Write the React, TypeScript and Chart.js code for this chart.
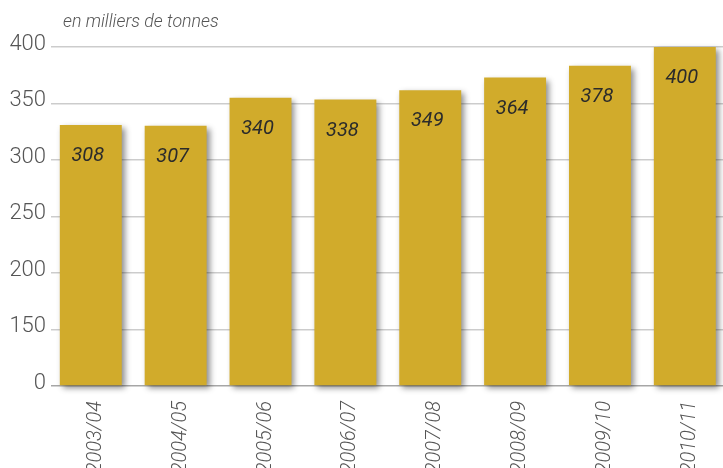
import React, { useEffect, useRef } from 'react';
import { Chart, registerables } from 'chart.js';

Chart.register(...registerables);

const CATEGORIES = ['2003/04', '2004/05', '2005/06', '2006/07', '2007/08', '2008/09', '2009/10', '2010/11'];
const VALUES = [308, 307, 340, 338, 349, 364, 378, 400];
const Y_TICK_LABELS = ['0', '150', '200', '250', '300', '350', '400'];
const Y_MAX = 400;
const UNIT_LABEL = 'en milliers de tonnes';

const FONT = 'Roboto';
const BAR_COLOR = '#D1AB2B';

export default function App() {
  const ref = useRef<HTMLCanvasElement | null>(null);

  useEffect(() => {
    if (!ref.current) return;
    const decor = {
      id: 'decor',
      beforeDatasetsDraw(chart: any) {
        const ctx = chart.ctx;
        ctx.save();
        ctx.shadowColor = 'rgba(0,0,0,0.45)';
        ctx.shadowOffsetX = 3;
        ctx.shadowOffsetY = 3;
        ctx.shadowBlur = 6;
      },
      afterDatasetsDraw(chart: any) {
        const ctx = chart.ctx;
        ctx.restore();
        ctx.save();
        ctx.font = `italic 400 20px ${FONT}`;
        ctx.fillStyle = '#2b2b2b';
        ctx.textAlign = 'center';
        ctx.textBaseline = 'middle';
        const meta = chart.getDatasetMeta(0);
        meta.data.forEach((bar: any, i: number) => {
          ctx.fillText(String(VALUES[i]), bar.x - 3, bar.y + 31);
        });
        ctx.restore();
      },
      afterDraw(chart: any) {
        const ctx = chart.ctx;
        ctx.save();
        ctx.font = `italic 300 17.8px ${FONT}`;
        ctx.fillStyle = '#555';
        ctx.textAlign = 'left';
        ctx.textBaseline = 'alphabetic';
        ctx.fillText(UNIT_LABEL, chart.chartArea.left + 12, 27);
        ctx.restore();
      },
    };

    const chart = new Chart(ref.current, {
      type: 'bar',
      data: {
        datasets: [
          {
            data: VALUES.map((v, i) => ({ x: i, y: v })),
            backgroundColor: BAR_COLOR,
            borderWidth: 0,
            barPercentage: 0.73,
            categoryPercentage: 1,
            clip: false as any,
          },
        ],
      },
      options: {
        animation: false,
        responsive: false,
        devicePixelRatio: 1,
        layout: { padding: { top: 47, right: 0, left: 0, bottom: 0 } },
        plugins: { legend: { display: false }, tooltip: { enabled: false }, title: { display: false } },
        scales: {
          x: {
            type: 'linear',
            min: -0.469,
            max: 7.45,
            offset: false,
            grid: { display: false },
            border: { display: false },
            afterFit: (scale: any) => {
              scale.height = 82;
            },
            ticks: {
              stepSize: 1,
              includeBounds: false,
              autoSkip: false,
              minRotation: 90,
              maxRotation: 90,
              padding: 7,
              labelOffset: 5,
              color: '#555',
              font: { family: FONT, size: 20, weight: '300', style: 'italic' },
              callback: (v: any) => (Number.isInteger(v) ? CATEGORIES[v] ?? '' : ''),
            },
          },
          y: {
            min: 0,
            max: Y_MAX,
            z: 1,
            border: { display: false },
            afterFit: (scale: any) => {
              scale.width = 51;
            },
            afterBuildTicks: (scale: any) => {
              scale.ticks = Y_TICK_LABELS.map((_, i) => ({ value: (Y_MAX * i) / (Y_TICK_LABELS.length - 1) }));
            },
            grid: {
              drawTicks: false,
              lineWidth: 1.5,
              color: (c: any) => (c.index === 0 ? 'rgba(0,0,0,0.35)' : 'rgba(0,0,0,0.2)'),
            },
            ticks: {
              padding: 5,
              labelOffset: -3,
              color: '#555',
              font: { family: FONT, size: 22, weight: '300' },
              callback: (_v: any, i: number) => Y_TICK_LABELS[i],
            },
          },
        },
      },
      plugins: [decor],
    });
    return () => chart.destroy();
  }, []);

  return (
    <div style={{ position: 'fixed', left: 0, top: 0, width: 723, height: 468, overflow: 'hidden', background: '#fff' }}>
      <canvas ref={ref} width={723} height={468} style={{ width: 723, height: 468, display: 'block' }} />
    </div>
  );
}
